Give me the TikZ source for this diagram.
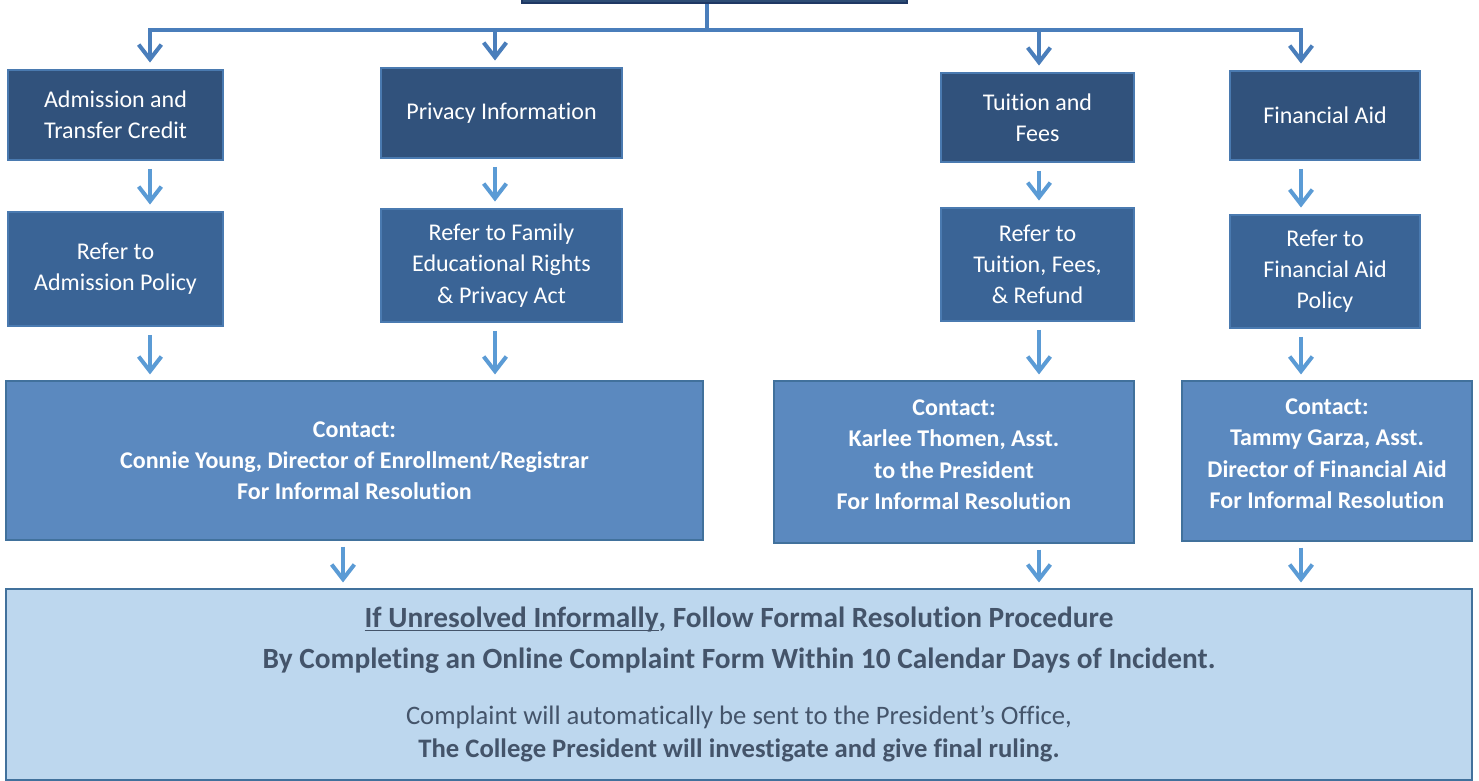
\documentclass[tikz,border=0pt]{standalone}
\usepackage{fontspec}
\setmainfont{Carlito}[Ligatures={NoCommon,TeX}]
\usetikzlibrary{arrows.meta}
\def\pxu{0.75pt}
\newcommand\myul[1]{\setbox0\hbox{#1}\leavevmode\rlap{\rule[-2.6pt]{\wd0}{1.1pt}}\box0}
\definecolor{topfill}{HTML}{2E4D75}
\definecolor{topdraw}{HTML}{1F3864}
\definecolor{lonefill}{HTML}{31527C}
\definecolor{ltwofill}{HTML}{3A6496}
\definecolor{lvldraw}{HTML}{4A7AB0}
\definecolor{lthreefill}{HTML}{5B89BF}
\definecolor{lthreedraw}{HTML}{41719C}
\definecolor{botfill}{HTML}{BDD7EE}
\definecolor{bottext}{HTML}{44546A}
\definecolor{trunkc}{HTML}{4A7EBB}
\definecolor{arrowc}{HTML}{5B9BD5}
\begin{document}
\begin{tikzpicture}[x=0.75pt,y=-0.75pt,
  basebox/.style={rectangle, inner sep=0pt, align=center, font=\fontsize{18}{23.4}\selectfont},
  levelone/.style={basebox, fill=lonefill, draw=lvldraw, line width=1.2pt, text=white},
  leveltwo/.style={basebox, fill=ltwofill, draw=lvldraw, line width=1.2pt, text=white},
  levelthree/.style={basebox, fill=lthreefill, draw=lthreedraw, line width=1.8pt, text=white, font=\fontsize{18}{23.4}\selectfont\bfseries},
  finalbox/.style={rectangle, inner sep=0pt, align=center, fill=botfill, draw=lthreedraw, line width=1.8pt, text=bottext, font=\fontsize{22}{30.75}\selectfont\bfseries},
  trunk/.style={draw=trunkc, line width=3pt},
  tarr/.style={draw=trunkc, line width=3pt, -{Straight Barb[length=11pt,width=17pt]}},
  arr/.style={draw=arrowc, line width=3pt, -{Straight Barb[length=11pt,width=17pt]}}
]
\useasboundingbox (0,0) rectangle (1479,781);

% top (mostly cropped) box
\node[rectangle, fill=topfill, draw=topdraw, line width=1.5pt, minimum width=385*\pxu, minimum height=46*\pxu] (top) at (714.5,-20) {};

% level 1
\node[levelone, minimum width=215*\pxu, minimum height=90*\pxu] (A1) at (115.5,115) {Admission and\\Transfer Credit};
\node[levelone, minimum width=241*\pxu, minimum height=90*\pxu] (P1) at (501.5,113) {Privacy Information};
\node[levelone, minimum width=193*\pxu, minimum height=89*\pxu] (T1) at (1037.5,117.5) {Tuition and\\Fees};
\node[levelone, minimum width=190*\pxu, minimum height=89*\pxu] (F1) at (1325,115.5) {Financial Aid};

% level 2
\node[leveltwo, minimum width=215*\pxu, minimum height=114*\pxu] (A2) at (115.5,269) {Refer to\\Admission Policy};
\node[leveltwo, minimum width=241*\pxu, minimum height=113*\pxu] (P2) at (501.5,265.5) {Refer to Family\\Educational Rights\\\& Privacy Act};
\node[leveltwo, minimum width=193*\pxu, minimum height=113*\pxu] (T2) at (1037.5,264.5) {Refer to\\Tuition, Fees,\\\& Refund};
\node[leveltwo, minimum width=190*\pxu, minimum height=113*\pxu] (F2) at (1325,271.5) {Refer to\\Financial Aid\\Policy};

% level 3
\node[levelthree, minimum width=697*\pxu, minimum height=159*\pxu] (C1) at (354.5,460.5) {Contact:\\Connie Young, Director of Enrollment/Registrar\\For Informal Resolution};
\node[levelthree, text depth=11pt, minimum width=360*\pxu, minimum height=162*\pxu] (C2) at (954,462) {Contact:\\Karlee Thomen, Asst.\\to the President\\For Informal Resolution};
\node[levelthree, text depth=11pt, minimum width=290*\pxu, minimum height=160*\pxu] (C3) at (1327,461) {Contact:\\Tammy Garza, Asst.\\Director of Financial Aid\\For Informal Resolution};

% bottom box
\node[finalbox, minimum width=1466*\pxu, minimum height=191*\pxu] (B) at (739,684.5) {%
  \myul{If Unresolved Informally}, Follow Formal Resolution Procedure\\
  By Completing an Online Complaint Form Within 10 Calendar Days of Incident.\\[11.25pt]
  \fontsize{20}{24.75}\selectfont\mdseries Complaint will automatically be sent to the President’s Office,\\[-6pt]
  \fontsize{20}{24.75}\selectfont The College President will investigate and give final ruling.};

% column coordinates
\coordinate (xa) at (150,0);
\coordinate (xp) at (495,0);
\coordinate (xt) at (1039,0);
\coordinate (xf) at (1301,0);
\coordinate (xb) at (343,0);
\coordinate (j) at (707,30);
\coordinate (bl) at (150,30);
\coordinate (br) at (1301,30);

% trunk
\draw[trunk] (top.south -| j) -- (j);
\draw[trunk, line cap=rect] (bl) -- (br);
\draw[tarr, shorten >=5pt] (bl) -- (A1.north -| xa);
\draw[tarr, shorten >=5pt] (j -| xp) -- (P1.north -| xp);
\draw[tarr, shorten >=5pt] (j -| xt) -- (T1.north -| xt);
\draw[tarr, shorten >=5pt] (br) -- (F1.north -| xf);

% level 1 -> 2
\draw[arr, shorten <=6pt, shorten >=5pt] (A1.south -| xa) -- (A2.north -| xa);
\draw[arr, shorten <=6pt, shorten >=5pt] (P1.south -| xp) -- (P2.north -| xp);
\draw[arr, shorten <=6pt, shorten >=5pt] (T1.south -| xt) -- (T2.north -| xt);
\draw[arr, shorten <=6pt, shorten >=5pt] (F1.south -| xf) -- (F2.north -| xf);

% level 2 -> 3
\draw[arr, shorten <=6pt, shorten >=4pt] (A2.south -| xa) -- (C1.north -| xa);
\draw[arr, shorten <=6pt, shorten >=4pt] (P2.south -| xp) -- (C1.north -| xp);
\draw[arr, shorten <=6pt, shorten >=4pt] (T2.south -| xt) -- (C2.north -| xt);
\draw[arr, shorten <=6pt, shorten >=4pt] (F2.south -| xf) -- (C3.north -| xf);

% level 3 -> bottom
\draw[arr, shorten <=4pt, shorten >=4pt] (C1.south -| xb) -- (B.north -| xb);
\draw[arr, shorten <=4pt, shorten >=4pt] (C2.south -| xt) -- (B.north -| xt);
\draw[arr, shorten <=4pt, shorten >=4pt] (C3.south -| xf) -- (B.north -| xf);
\end{tikzpicture}
\end{document}
